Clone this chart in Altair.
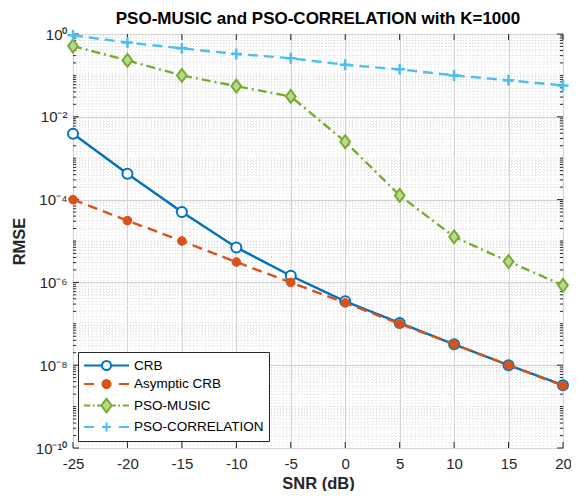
import altair as alt
import pandas as pd
import numpy as np

# ---------------- data ----------------
snr = [-25, -20, -15, -10, -5, 0, 5, 10, 15, 20]
series_names = ["CRB", "Asymptic CRB", "PSO-MUSIC", "PSO-CORRELATION"]
crb = [3.9e-3, 4.2e-4, 5.0e-5, 7.0e-6, 1.45e-6, 3.5e-7, 1.05e-7, 3.2e-8, 1.0e-8, 3.3e-9]
asym_crb = [1.0e-4, 3.1e-5, 1.0e-5, 3.1e-6, 1.0e-6, 3.2e-7, 1.0e-7, 3.2e-8, 1.0e-8, 3.2e-9]
pso_music = [0.51, 0.23, 0.10, 0.055, 0.031, 2.5e-3, 1.26e-4, 1.26e-5, 3.2e-6, 8.5e-7]
pso_corr = [0.93, 0.62, 0.45, 0.33, 0.26, 0.18, 0.14, 0.10, 0.076, 0.057]

x_ticks = [-25, -20, -15, -10, -5, 0, 5, 10, 15, 20]
y_ticks = [1e-10, 1e-8, 1e-6, 1e-4, 1e-2, 1]
y_tick_labels = ["10⁻¹⁰", "10⁻⁸", "10⁻⁶", "10⁻⁴", "10⁻²", "10⁰"]

# ---------------- style ----------------
colors = ["#0072BD", "#D95319", "#77AC30", "#4DBEEE"]
fills = ["#ffffff", "#D95319", "#b9d98f", "#4DBEEE"]
dashes = [None, [10, 6], [9, 4, 2, 4], [10, 6]]
shapes = ["circle", "circle", "M0,-1L0.75,0L0,1L-0.75,0Z", "M-1,0H1M0,-1V1"]
sizes = [100, 75, 169, 121]
pt_stroke = [2, 1, 2, 2.5]
# legend symbols: unit = 7.5 px (symbolSize 225)
legend_paths = [
    "M-3,0H-0.6M0.6,0H3M-0.6,0A0.6,0.6 0 1,1 0.6,0A0.6,0.6 0 1,1 -0.6,0Z",
    "M-3,0H-1.65M1.65,0H3M-0.55,0A0.55,0.55 0 1,1 0.55,0A0.55,0.55 0 1,1 -0.55,0Z",
    "M-3,0H-2.16M-1.8,0H-1.56M-1.26,0H-0.78M0.78,0H1.26M1.56,0H1.8M2.16,0H3M0,-0.9L0.69,0L0,0.9L-0.69,0Z",
    "M-3,0H-1.65M1.65,0H3M-0.6,0H0.6M0,-0.6V0.6",
]
W, H = 490, 414
FONT = "Liberation Sans"
AX = "#262626"

rows = []
for name, vals in zip(series_names, [crb, asym_crb, pso_music, pso_corr]):
    for s, v in zip(snr, vals):
        rows.append({"series": name, "snr": s, "rmse": v})
df = pd.DataFrame(rows)

# grid/tick positions
x_minor = pd.DataFrame({"v": list(np.linspace(-25, 20, 9 * 14 + 1))})
y_minor_vals = []
for k in range(-10, 0):
    for m in range(1, 10):
        val = m * 10.0 ** k
        if m == 1 and k % 2 == 0:
            continue
        y_minor_vals.append(val)
y_minor = pd.DataFrame({"v": y_minor_vals})
y_major = pd.DataFrame({"v": y_ticks})
x_major = pd.DataFrame({"v": x_ticks})

xscale = alt.Scale(domain=[-25, 20], nice=False, zero=False)
yscale = alt.Scale(type="log", domain=[1e-10, 1], nice=False)

label_expr = "[" + ",".join("'%s'" % t for t in y_tick_labels) + "][round(log(datum.value)/LN10)/2 + 5]"

xaxis = alt.Axis(values=x_ticks, grid=True, gridColor="#d4d4d4", gridWidth=1, ticks=False,
                 domain=False, labelFontSize=15, labelFont=FONT, labelColor=AX, labelPadding=8,
                 labelExpr="'' + datum.value", labelFlush=False, labelOverlap=False,
                 title="SNR (dB)", titleFontSize=16.5, titleFont=FONT, titleFontWeight="bold",
                 titleColor=AX, titlePadding=4)
yaxis = alt.Axis(values=y_ticks, grid=True, gridColor="#d4d4d4", gridWidth=1, ticks=False,
                 domain=False, labelFontSize=15, labelFont=FONT, labelColor=AX, labelPadding=6,
                 labelExpr=label_expr, labelFlush=False, labelOverlap=False,
                 title="RMSE", titleFontSize=16.5, titleFont=FONT,
                 titleFontWeight="bold", titleColor=AX, titleX=-49, titleBaseline="alphabetic")


def X(f):
    return alt.X(f, type="quantitative", scale=xscale, axis=xaxis, title="SNR (dB)")


def Y(f):
    return alt.Y(f, type="quantitative", scale=yscale, axis=yaxis, title="RMSE")


layers = []
# minor grids
layers.append(alt.Chart(x_minor).mark_rule(color="#d3d3d3", strokeWidth=0.8, strokeDash=[1, 2]).encode(x=X("v")))
layers.append(alt.Chart(y_minor).mark_rule(color="#d3d3d3", strokeWidth=0.8, strokeDash=[1, 2]).encode(y=Y("v")))
# inner ticks
tk = dict(color=AX, strokeWidth=1)
layers.append(alt.Chart(y_major).mark_rule(**tk).encode(y=Y("v"), x=alt.value(0), x2=alt.value(6)))
layers.append(alt.Chart(y_major).mark_rule(**tk).encode(y=Y("v"), x=alt.value(W - 6), x2=alt.value(W)))
layers.append(alt.Chart(y_minor).mark_rule(**tk).encode(y=Y("v"), x=alt.value(0), x2=alt.value(3)))
layers.append(alt.Chart(y_minor).mark_rule(**tk).encode(y=Y("v"), x=alt.value(W - 3), x2=alt.value(W)))
layers.append(alt.Chart(x_major).mark_rule(**tk).encode(x=X("v"), y=alt.value(0), y2=alt.value(6)))
layers.append(alt.Chart(x_major).mark_rule(**tk).encode(x=X("v"), y=alt.value(H - 6), y2=alt.value(H)))

# series
for i, name in enumerate(series_names):
    sub = df[df.series == name]
    lk = dict(color=colors[i], strokeWidth=2.4)
    if dashes[i]:
        lk["strokeDash"] = dashes[i]
    layers.append(alt.Chart(sub).mark_line(**lk).encode(x=X("snr"), y=Y("rmse")))
    layers.append(alt.Chart(sub).mark_point(shape=shapes[i], size=sizes[i], fill=fills[i],
                                            stroke=colors[i], strokeWidth=pt_stroke[i],
                                            opacity=1, fillOpacity=1).encode(x=X("snr"), y=Y("rmse")))

leg = alt.Legend(title=None, orient="none", legendX=5, legendY=318, fillColor="white",
                 strokeColor=AX, padding=5, symbolSize=225, symbolStrokeWidth=2,
                 symbolOffset=15, symbolOpacity=1, labelFontSize=13.5, labelFont=FONT,
                 labelColor="#000", rowPadding=1.5, labelOffset=19)
layers.append(alt.Chart(df).mark_point(opacity=0, filled=False).encode(
    x=X("snr"), y=Y("rmse"),
    color=alt.Color("series:N", sort=series_names, scale=alt.Scale(domain=series_names, range=colors), legend=leg),
    fill=alt.Fill("series:N", sort=series_names, scale=alt.Scale(domain=series_names, range=fills), legend=leg),
    shape=alt.Shape("series:N", sort=series_names, scale=alt.Scale(domain=series_names, range=legend_paths), legend=leg),
))

chart = alt.layer(*layers).properties(
    width=W, height=H,
    title=alt.Title("PSO-MUSIC and PSO-CORRELATION with K=1000", fontSize=17, fontWeight="bold",
                    font=FONT, color="#000", offset=-3),
    autosize=alt.AutoSizeParams(type="none"),
    padding={"left": 65, "top": 26, "right": 8, "bottom": 43},
).configure_view(stroke=AX, strokeWidth=1).configure(background="white")

chart.save("out.html", embed_options={"renderer": "svg", "actions": False})
